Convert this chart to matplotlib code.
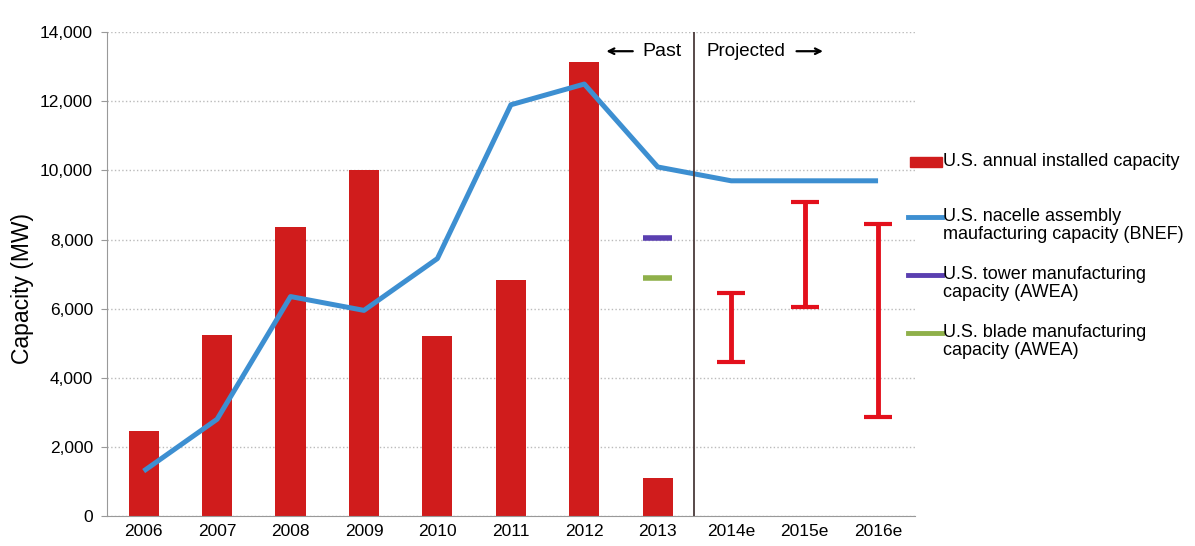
import numpy as np
import matplotlib.pyplot as plt
from matplotlib.patches import Rectangle
from matplotlib.lines import Line2D

plt.rcParams['font.family'] = ['Liberation Sans', 'DejaVu Sans']

years = ['2006', '2007', '2008', '2009', '2010', '2011', '2012', '2013',
         '2014e', '2015e', '2016e']
installed = [2450, 5250, 8360, 10000, 5200, 6830, 13150, 1100]
nacelle = [1300, 2800, 6350, 5950, 7450, 11900, 12500, 10100, 9700, 9700, 9700]
tower_2013 = 8050
blade_2013 = 6900
proj_low = [4450, 6050, 2850]
proj_high = [6450, 9100, 8450]

red = '#d01c1c'
blue = '#3d8fd1'
purple = '#5a3fb0'
green = '#8fb04a'

x = np.arange(len(years))

fig = plt.figure(figsize=(11.95, 5.46), dpi=100)
ax = fig.add_axes([0.0895, 0.055, 0.676, 0.886])

ax.bar(x[:len(installed)], installed, width=0.41, color=red, zorder=2)
ax.plot(x, nacelle, color=blue, lw=3.6, zorder=3, solid_capstyle='butt')

# 2013 tower / blade capacity markers
ax.hlines(tower_2013, 7 - 0.2, 7 + 0.2, color=purple, lw=4, zorder=3)
ax.hlines(blade_2013, 7 - 0.2, 7 + 0.2, color=green, lw=4, zorder=3)

# projected ranges
xp = x[8:]
mid = (np.array(proj_low) + np.array(proj_high)) / 2
err = (np.array(proj_high) - np.array(proj_low)) / 2
ax.errorbar(xp, mid, yerr=err, fmt='none', ecolor='#e3101c', elinewidth=3.5,
            capsize=10, capthick=3, zorder=3)

ax.axvline(7.5, color='#4a3a3a', lw=1.3, zorder=4)
ty = 13450
ax.text(7.32, ty, 'Past', ha='right', va='center', fontsize=14)
ax.text(7.66, ty, 'Projected', ha='left', va='center', fontsize=13.5)
ax.annotate('', xy=(6.30, ty), xytext=(6.66, ty),
            arrowprops=dict(arrowstyle='->', lw=1.6, color='black',
                            shrinkA=0, shrinkB=0))
ax.annotate('', xy=(9.25, ty), xytext=(8.89, ty),
            arrowprops=dict(arrowstyle='->', lw=1.6, color='black',
                            shrinkA=0, shrinkB=0))

ax.set_xlim(-0.5, 10.5)
ax.set_ylim(0, 14000)
ax.set_yticks(np.arange(0, 14001, 2000))
ax.set_yticklabels([f'{v:,}' for v in range(0, 14001, 2000)], fontsize=12.5)
ax.set_xticks(x)
ax.set_xticklabels(years, fontsize=12.5)
ax.tick_params(axis='x', length=0, pad=6)
ax.tick_params(axis='y', length=4, color='#999999', pad=6)
ax.set_ylabel('Capacity (MW)', fontsize=16.5)
ax.yaxis.set_label_coords(-0.09, 0.47)
ax.yaxis.grid(True, linestyle=':', color='#bbbbbb', lw=1)
ax.set_axisbelow(True)
for s in ['top', 'right']:
    ax.spines[s].set_visible(False)
ax.spines['left'].set_color('#999999')
ax.spines['bottom'].set_color('#999999')

# legend, drawn by hand so the keys line up with the first text line
W, H = 1195, 546
labels = ['U.S. annual installed capacity',
          'U.S. nacelle assembly\nmaufacturing capacity (BNEF)',
          'U.S. tower manufacturing\ncapacity (AWEA)',
          'U.S. blade manufacturing\ncapacity (AWEA)']
colors = [red, blue, purple, green]
rows = [162, 217, 275, 333]
for i, (lab, c, py) in enumerate(zip(labels, colors, rows)):
    yf = 1 - py / H
    if i == 0:
        fig.add_artist(Rectangle((910 / W, yf - 5 / H), 32 / W, 10 / H,
                                 transform=fig.transFigure, color=c))
    else:
        fig.add_artist(Line2D([908 / W, 942 / W], [yf, yf],
                              transform=fig.transFigure, color=c, lw=3.5))
    fig.text(943 / W, yf + 9 / H, lab, ha='left', va='top', fontsize=13,
             linespacing=1.05)

fig.savefig('out.png', dpi=100)
